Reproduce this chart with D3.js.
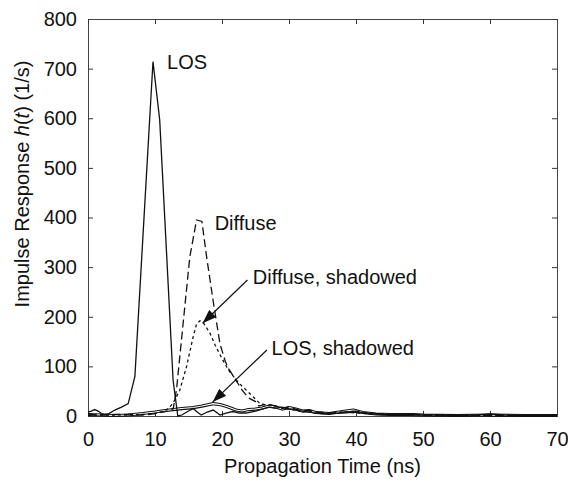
<!DOCTYPE html>
<meta charset="utf-8">
<script src="https://d3js.org/d3.v7.min.js"></script>
<style>
  body { margin: 0; background: #fff; }
  text { font-family: "Liberation Sans", Arial, sans-serif; fill: #111; }
</style>
<div id="chart"></div>
<script>

  // values: [time (ns), h(t) (1/s)]
  var losData = [[0,8],[0.5,10],[1,13],[1.5,10],[2,5],[2.5,3],[3,4],[4,12],[5,18],[6,25],[7,80],
    [8,315],[9,550],[9.7,714],[10.7,597],[11.7,335],[12.7,72],[13.4,0],[14,2],[15,10],[15.7,15],
    [16.3,8],[16.9,2],[17.8,8],[18.7,12],[19.7,2],[20.6,6],[21.6,9],[22.6,6],[23.6,6],[25,10],
    [26,14],[27,18],[28,16],[29,18],[30,14],[31,12],[32,10],[33,8],[34,6],[35,5],[36,5],[38,6],
    [40,8],[42,5],[44,3],[46,4],[48,3],[50,2],[52,2],[55,1],[58,2],[60,4],[62,2],[65,1],[70,1]];

  var diffuseData = [[0,3],[2,2],[4,3],[6,3],[8,2],[9,3],[10,5],[11,8],[12,10],[12.7,14],[13.2,52],
    [14.2,187],[15.2,321],[16.2,395],[17,392],[17.7,321],[18.7,230],[19.7,145],[20.5,110],[21,95],
    [22,74],[23,52],[24,36],[25,29],[25.5,20],[26,22],[27,24],[28,20],[29,15],[30,18],[31,14],
    [32,10],[33,12],[34,8],[36,6],[38,8],[40,10],[42,5],[44,4],[46,3],[48,5],[50,2],[55,2],
    [60,1],[65,1],[70,0]];

  var diffuseShadowedData = [[0,2],[4,2],[8,3],[9.2,4],[10,5],[11.2,9],[12,15],[12.7,26],[13.7,52],
    [14.7,99],[15.7,160],[16.2,185],[16.7,192],[17.2,188],[18.2,167],[19,142],[20.1,113],[21,92],
    [22.1,73],[23,60],[24.1,46],[25,34],[25.6,26],[26.5,22],[27.5,22],[28.5,18],[30,14],[32,10],
    [34,8],[36,6],[38,8],[40,6],[43,4],[46,3],[50,2],[55,2],[60,1],[65,1],[70,1]];

  var losShadowedData = [[0,3],[2,2],[4,1],[6,2],[8.2,5],[10,8],[11,10],[12.7,13],[14,15],[15.7,17],
    [17,20],[18.7,25],[19.7,23],[20.7,19],[22.1,12],[23,10],[24,13],[25,14],[26,16],[27.1,20],
    [28,18],[29,14],[30,17],[31,14],[32,10],[33,11],[34,7],[36,5],[38,9],[39.6,12],[41,7],[43,4],
    [45,3],[48,3],[50,2],[55,1],[60,2],[65,1],[70,1]];

  var xTicks = [0, 10, 20, 30, 40, 50, 60, 70];
  var yTicks = [0, 100, 200, 300, 400, 500, 600, 700, 800];

  // labels: [text, time, value] of the text start / baseline
  var labels = [["LOS", 11.8, 700], ["Diffuse", 18.9, 375],
                ["Diffuse, shadowed", 24.6, 266], ["LOS, shadowed", 27.4, 123]];
  // arrows: [from time, from value, to time, to value]
  var arrows = [[23.8, 274, 17.1, 187], [26.7, 133, 18.6, 28]];

  // set the dimensions and margins of the graph
  var margin = {top: 19, right: 11, bottom: 67, left: 88},
      width = 568 - margin.left - margin.right,
      height = 483 - margin.top - margin.bottom;

  var svg = d3.select("#chart")
    .append("svg")
      .attr("width", 568)
      .attr("height", 483)
    .append("g")
      .attr("transform", "translate(" + margin.left + "," + margin.top + ")");

  var x = d3.scaleLinear().domain([0, 70]).range([0, width]);
  var y = d3.scaleLinear().domain([0, 800]).range([height, 0]);

  // axes, ticks pointing inward
  svg.append("g")
      .attr("transform", "translate(0," + height + ")")
      .call(d3.axisBottom(x).tickValues(xTicks).tickSize(-5).tickPadding(16))
      .style("font-size", "20px");
  svg.append("g")
      .call(d3.axisLeft(y).tickValues(yTicks).tickSize(-5).tickPadding(11))
      .style("font-size", "20px");
  svg.append("g")
      .call(d3.axisTop(x).tickValues(xTicks).tickSize(-5).tickFormat(""));
  svg.append("g")
      .attr("transform", "translate(" + width + ",0)")
      .call(d3.axisRight(y).tickValues(yTicks).tickSize(-5).tickFormat(""));
  svg.selectAll(".domain").attr("stroke", "#444");
  svg.selectAll(".tick line").attr("stroke", "#333");
  svg.selectAll(".tick text").attr("fill", "#111").attr("font-family", "Liberation Sans, Arial, sans-serif");

  var line = d3.line()
      .x(function(d) { return x(d[0]); })
      .y(function(d) { return y(d[1]); });

  // LOS, shadowed: drawn as a hollow double line
  svg.append("path").datum(losShadowedData)
      .attr("fill", "none").attr("stroke", "#111").attr("stroke-width", 3.2)
      .attr("stroke-linejoin", "round").attr("d", line);
  svg.append("path").datum(losShadowedData)
      .attr("fill", "none").attr("stroke", "#fff").attr("stroke-width", 1.1)
      .attr("stroke-linejoin", "round").attr("d", line);

  svg.append("path").datum(diffuseShadowedData)
      .attr("fill", "none").attr("stroke", "#111").attr("stroke-width", 1.3)
      .attr("stroke-dasharray", "3,3").attr("d", line);

  svg.append("path").datum(diffuseData)
      .attr("fill", "none").attr("stroke", "#111").attr("stroke-width", 1.3)
      .attr("stroke-dasharray", "8,4").attr("d", line);

  svg.append("path").datum(losData)
      .attr("fill", "none").attr("stroke", "#111").attr("stroke-width", 1.3)
      .attr("d", line);

  // annotations
  svg.selectAll(".lab").data(labels).enter().append("text")
      .attr("x", function(d) { return x(d[1]); })
      .attr("y", function(d) { return y(d[2]); })
      .style("font-size", "20px")
      .text(function(d) { return d[0]; });

  svg.append("defs").append("marker")
      .attr("id", "head")
      .attr("viewBox", "0 0 14 10")
      .attr("refX", 14).attr("refY", 5)
      .attr("markerWidth", 14).attr("markerHeight", 10)
      .attr("markerUnits", "userSpaceOnUse")
      .attr("orient", "auto")
    .append("path")
      .attr("d", "M0,0 L14,5 L0,10 Z")
      .attr("fill", "#111");

  svg.selectAll(".arrow").data(arrows).enter().append("line")
      .attr("x1", function(d) { return x(d[0]); })
      .attr("y1", function(d) { return y(d[1]); })
      .attr("x2", function(d) { return x(d[2]); })
      .attr("y2", function(d) { return y(d[3]); })
      .attr("stroke", "#111").attr("stroke-width", 1.2)
      .attr("marker-end", "url(#head)");

  // axis titles
  svg.append("text")
      .attr("text-anchor", "middle")
      .attr("x", width / 2)
      .attr("y", height + 57)
      .style("font-size", "20px")
      .text("Propagation Time (ns)");

  var yl = svg.append("text")
      .attr("text-anchor", "middle")
      .attr("transform", "translate(" + (29 - margin.left) + "," + (184 - margin.top) + ") rotate(-90)")
      .style("font-size", "20px");
  yl.append("tspan").text("Impulse Response ");
  yl.append("tspan").style("font-style", "italic").text("h");
  yl.append("tspan").text("(");
  yl.append("tspan").style("font-style", "italic").text("t");
  yl.append("tspan").text(") (1/s)");

</script>
